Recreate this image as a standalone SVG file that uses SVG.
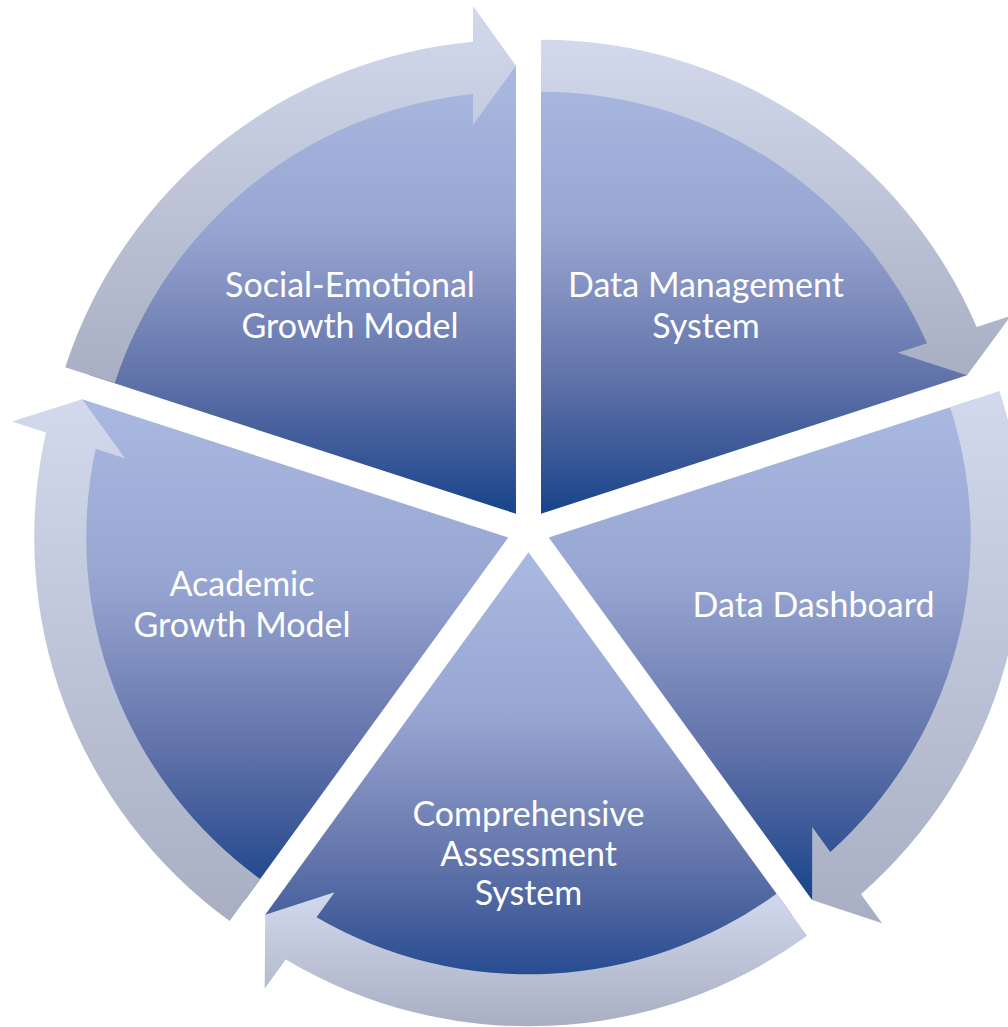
<svg xmlns="http://www.w3.org/2000/svg" width="1008" height="1027" viewBox="0 0 1008 1027">
  <defs>
    <!-- segment fill: light periwinkle at the top, deep navy at the bottom -->
    <linearGradient id="segFill" x1="0" y1="0" x2="0" y2="1">
      <stop offset="0" stop-color="#AAB9E1"/>
      <stop offset="0.35" stop-color="#98A7D2"/>
      <stop offset="0.5" stop-color="#8291C1"/>
      <stop offset="0.7" stop-color="#6072A9"/>
      <stop offset="0.85" stop-color="#3E5A99"/>
      <stop offset="1" stop-color="#17448B"/>
    </linearGradient>
    <!-- circular arrow fill: pale blue-grey to slate -->
    <linearGradient id="arrowFill" x1="0" y1="0" x2="0" y2="1">
      <stop offset="0" stop-color="#D2D9EC"/>
      <stop offset="1" stop-color="#A8AFC2"/>
    </linearGradient>
  </defs>
  <style>
    .seg { fill: url(#segFill); }
    .arrow { fill: url(#arrowFill); }
    .label { font-family: Lato, "Liberation Sans", sans-serif; font-size: 34px; fill: #FFFFFF; text-anchor: middle; }
  </style>

  <rect width="1008" height="1027" fill="#FFFFFF"/>

  <!-- pie segments, each pulled 21px out from the common centre (528.5, 531), radius 448 (outer rim hidden under the arrows) -->
  <g id="node-data-management">
    <path class="seg" d="M541.02,513.77 L541.02,65.77 A448,448 0 0 1 967.09,375.33 Z"/>
    <text class="label" x="706" y="297">Data Management</text>
    <text class="label" x="706" y="337.5">System</text>
  </g>
  <g id="node-data-dashboard">
    <path class="seg" d="M548.76,537.58 L974.83,399.14 A448,448 0 0 1 812.09,900.02 Z"/>
    <text class="label" x="813.5" y="617">Data Dashboard</text>
  </g>
  <g id="node-comprehensive-assessment">
    <path class="seg" d="M528.5,552.3 L791.83,914.74 A448,448 0 0 1 265.17,914.74 Z"/>
    <text class="label" x="528.5" y="826">Comprehensive</text>
    <text class="label" x="528.5" y="866">Assessment</text>
    <text class="label" x="528.5" y="905">System</text>
  </g>
  <g id="node-academic-growth">
    <path class="seg" d="M508.24,537.58 L244.91,900.02 A448,448 0 0 1 82.17,399.14 Z"/>
    <text class="label" x="242" y="596">Academic</text>
    <text class="label" x="242" y="637">Growth Model</text>
  </g>
  <g id="node-social-emotional">
    <path class="seg" d="M515.98,513.77 L89.91,375.33 A448,448 0 0 1 515.98,65.77 Z"/>
    <text class="label" x="350" y="297">Social-Emotional</text>
    <text class="label" x="350" y="337.5">Growth Model</text>
  </g>

  <!-- clockwise circular arrows: band r 422..474 around each segment apex, head at the next boundary -->
  <g id="connectors">
    <path class="arrow" d="M541.02,39.77 A474,474 0 0 1 976.68,327.00 L1010.87,315.89 L967.09,375.33 L897.69,352.66 L926.98,343.14 A422,422 0 0 0 541.02,91.77 Z"/>
    <path class="arrow" d="M999.56,391.10 A474,474 0 0 1 861.02,894.21 L882.15,923.29 L812.09,900.02 L812.20,827.02 L830.30,851.94 A422,422 0 0 0 950.11,407.17 Z"/>
    <path class="arrow" d="M807.11,935.78 A474,474 0 0 1 285.82,959.47 L264.69,988.55 L265.17,914.74 L334.64,892.28 L316.54,917.20 A422,422 0 0 0 776.55,893.71 Z"/>
    <path class="arrow" d="M229.63,921.06 A474,474 0 0 1 46.00,432.61 L11.81,421.50 L82.17,399.14 L124.99,458.27 L95.70,448.75 A422,422 0 0 0 260.19,878.99 Z"/>
    <path class="arrow" d="M65.18,367.29 A474,474 0 0 1 472.98,41.72 L472.98,5.77 L515.98,65.77 L472.98,124.77 L472.98,93.97 A422,422 0 0 0 114.63,383.36 Z"/>
  </g>
</svg>
